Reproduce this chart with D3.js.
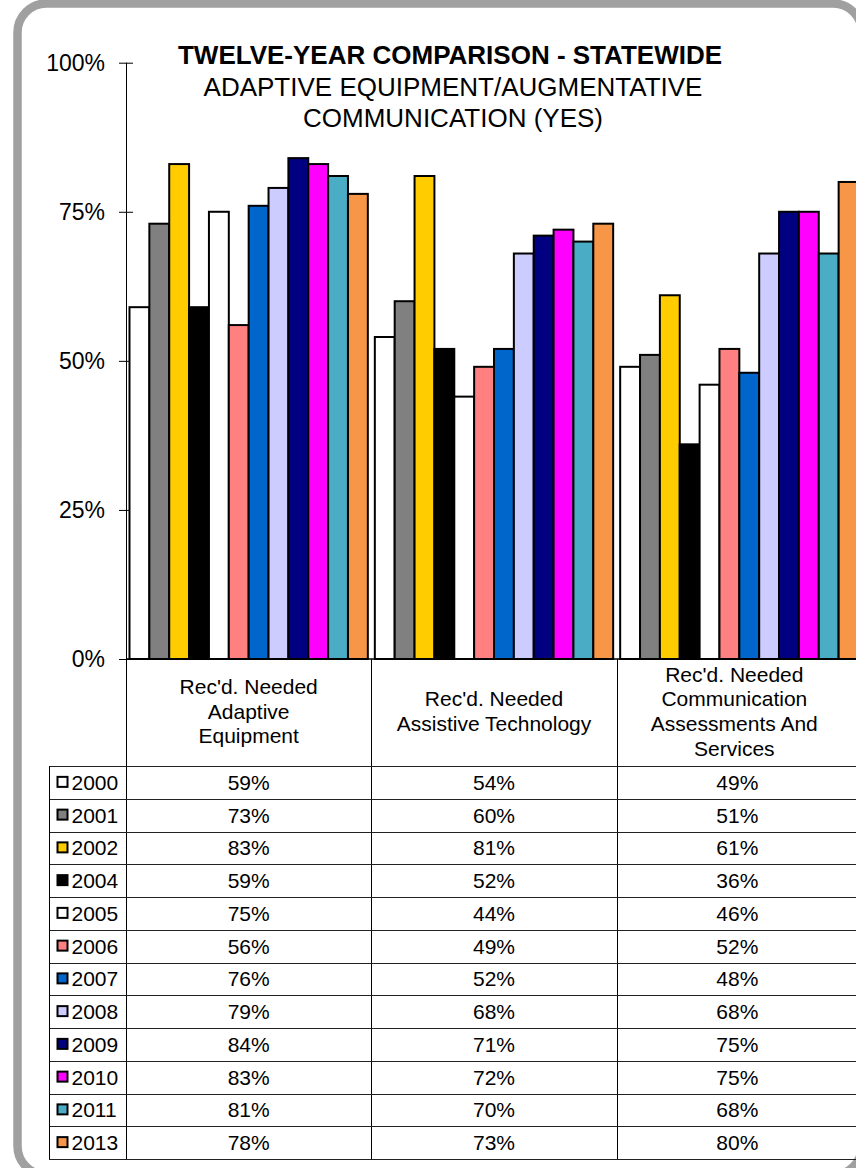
<!DOCTYPE html>
<html>
<head>
<meta charset="utf-8">
<script src="https://cdn.jsdelivr.net/npm/d3@7"></script>
<style>
  body { margin: 0; background: #fff; }
  svg text { font-family: "Liberation Sans", Arial, sans-serif; fill: #000; }
</style>
</head>
<body>
<div id="chart"></div>
<script>
// chart values
const categories = ["Adaptive Equipment", "Assistive Technology", "Communication Assessments And Services"];
const categoryLines = [
  ["Rec'd. Needed", "Adaptive", "Equipment"],
  ["Rec'd. Needed", "Assistive Technology"],
  ["Rec'd. Needed", "Communication", "Assessments And", "Services"]
];
const years = ["2000", "2001", "2002", "2004", "2005", "2006", "2007", "2008", "2009", "2010", "2011", "2013"];
const yearColors = ["#ffffff", "#808080", "#ffcc00", "#000000", "#ffffff", "#ff8080",
                    "#0066cc", "#ccccff", "#000080", "#ff00ff", "#4bacc6", "#f79646"];
const adaptiveValues = [59, 73, 83, 59, 75, 56, 76, 79, 84, 83, 81, 78];
const assistiveValues = [54, 60, 81, 52, 44, 49, 52, 68, 71, 72, 70, 73];
const communicationValues = [49, 51, 61, 36, 46, 52, 48, 68, 75, 75, 68, 80];
const yTicks = [0, 25, 50, 75, 100];
const titleLines = ["ADAPTIVE EQUIPMENT/AUGMENTATIVE", "COMMUNICATION (YES)"];

const seriesByCategory = [adaptiveValues, assistiveValues, communicationValues];

const svgWidth = 856;
const svgHeight = 1168;
const plot = { left: 126, right: 862, top: 62.7, bottom: 659 };
const tableTop = 766;
const tableBottom = 1159;
const tableLeft = 49;
const visibleRight = 858; // inner edge of the frame, text is centred in the visible part

const color = d3.scaleOrdinal().domain(years).range(yearColors);

const svg = d3.select("#chart").append("svg")
  .attr("width", svgWidth)
  .attr("height", svgHeight);

// rounded frame
svg.append("rect")
  .attr("x", 17.5).attr("y", 3.5)
  .attr("width", 844.5).attr("height", 1171.5)
  .attr("rx", 29).attr("ry", 29)
  .attr("fill", "#fff")
  .attr("stroke", "#a0a0a0")
  .attr("stroke-width", 8.5);

const xScale = d3.scaleBand()
  .domain(categories)
  .range([plot.left, plot.right]);

const xInner = d3.scaleBand()
  .domain(years)
  .range([3.5, xScale.bandwidth() - 3.5]);

const yScale = d3.scaleLinear()
  .domain([0, 100])
  .range([plot.bottom, plot.top]);

// title
svg.append("text")
  .attr("x", 450).attr("y", 64)
  .attr("text-anchor", "middle")
  .style("font-size", "26px")
  .style("font-weight", "bold")
  .text("TWELVE-YEAR COMPARISON - STATEWIDE");

svg.append("g").selectAll("text")
  .data(titleLines)
  .join("text")
  .attr("x", 453)
  .attr("y", (d, i) => 96 + i * 30.5)
  .attr("text-anchor", "middle")
  .style("font-size", "26px")
  .text(d => d);

// y axis with ticks crossing the axis line
const yAxisGroup = svg.append("g")
  .attr("transform", `translate(${plot.left + 7},0)`)
  .call(d3.axisLeft(yScale)
    .tickValues(yTicks)
    .tickFormat(d => d + "%")
    .tickSize(14)
    .tickPadding(14));
yAxisGroup.select(".domain").remove();
yAxisGroup.selectAll(".tick line").attr("stroke", "#000");
yAxisGroup.selectAll(".tick text")
  .style("font-size", "23px")
  .style("font-family", "'Liberation Sans', Arial, sans-serif");

svg.append("line")
  .attr("x1", plot.left + 0.5).attr("x2", plot.left + 0.5)
  .attr("y1", plot.top).attr("y2", tableBottom)
  .attr("stroke", "#000");

// bars
const groups = svg.append("g").selectAll("g")
  .data(categories)
  .join("g")
  .attr("transform", d => `translate(${xScale(d)},0)`);

groups.selectAll("rect")
  .data((d, i) => years.map((y, j) => ({ year: y, value: seriesByCategory[i][j] })))
  .join("rect")
  .attr("x", d => xInner(d.year))
  .attr("width", xInner.bandwidth())
  .attr("y", d => yScale(d.value))
  .attr("height", d => plot.bottom - yScale(d.value))
  .attr("fill", d => color(d.year))
  .attr("stroke", "#000")
  .attr("stroke-width", 2);

// x axis line
svg.append("line")
  .attr("x1", plot.left).attr("x2", plot.right)
  .attr("y1", plot.bottom).attr("y2", plot.bottom)
  .attr("stroke", "#000")
  .attr("stroke-width", 1.5);

// data table
const rowScale = d3.scaleBand()
  .domain(years)
  .range([tableTop, tableBottom]);

const colCenter = c => (xScale(c) + Math.min(xScale(c) + xScale.bandwidth(), visibleRight)) / 2;

const table = svg.append("g");

// column separators
table.selectAll(".col-line")
  .data(categories.slice(1))
  .join("line")
  .attr("class", "col-line")
  .attr("x1", d => Math.round(xScale(d)) + 0.5)
  .attr("x2", d => Math.round(xScale(d)) + 0.5)
  .attr("y1", plot.bottom)
  .attr("y2", tableBottom)
  .attr("stroke", "#000");

// row lines
table.selectAll(".row-line")
  .data(years.concat(["end"]))
  .join("line")
  .attr("class", "row-line")
  .attr("x1", tableLeft)
  .attr("x2", plot.right)
  .attr("y1", (d, i) => Math.round(tableTop + i * rowScale.step()) + 0.5)
  .attr("y2", (d, i) => Math.round(tableTop + i * rowScale.step()) + 0.5)
  .attr("stroke", "#222");

table.append("line")
  .attr("x1", tableLeft + 0.5).attr("x2", tableLeft + 0.5)
  .attr("y1", tableTop).attr("y2", tableBottom)
  .attr("stroke", "#000");

// category labels in the header row
const headerMid = (plot.bottom + tableTop) / 2;
table.selectAll(".cat-label")
  .data(categories)
  .join("text")
  .attr("class", "cat-label")
  .attr("text-anchor", "middle")
  .style("font-size", "21px")
  .each(function (d, i) {
    const lines = categoryLines[i];
    const lineH = 24.7;
    d3.select(this).selectAll("tspan")
      .data(lines)
      .join("tspan")
      .attr("x", i === 2 ? colCenter(d) - 3 : colCenter(d))
      .attr("y", (l, k) => headerMid + 6.2 + (k - (lines.length - 1) / 2) * lineH)
      .text(l => l);
  });

// legend keys and years
const rows = table.selectAll(".row")
  .data(years)
  .join("g")
  .attr("class", "row")
  .attr("transform", d => `translate(0,${rowScale(d) + rowScale.bandwidth() / 2})`);

rows.append("rect")
  .attr("x", 57.5).attr("y", -5.5)
  .attr("width", 10).attr("height", 10)
  .attr("fill", d => color(d))
  .attr("stroke", "#000")
  .attr("stroke-width", 2);

rows.append("text")
  .attr("x", 71.5).attr("y", 7.5)
  .style("font-size", "21px")
  .text(d => d);

rows.each(function (yr, j) {
  d3.select(this).selectAll(".val")
    .data(categories)
    .join("text")
    .attr("class", "val")
    .attr("x", c => colCenter(c))
    .attr("y", 7.5)
    .attr("text-anchor", "middle")
    .style("font-size", "21px")
    .text((c, i) => seriesByCategory[i][j] + "%");
});
</script>
</body>
</html>
